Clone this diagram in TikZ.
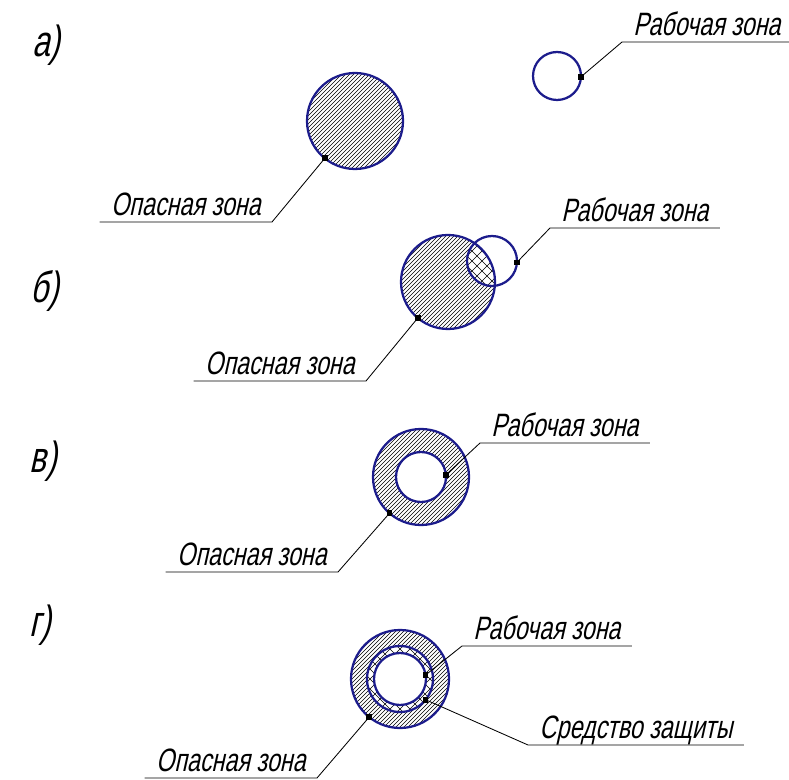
\documentclass[tikz,border=0pt]{standalone}
\usepackage{fontspec}
\newfontfamily\gostfont[FakeSlant=0.22, FakeStretch=0.72]{Liberation Sans}
\usetikzlibrary{positioning, calc}
\definecolor{zoneblue}{RGB}{28, 28, 140}

\newcommand{\densehatch}[1]{%
  \foreach \k in {-72,-68,...,72}
    \draw[hatch, shift={(#1)}] (\k-60,60) -- (\k+60,-60);}
\newcommand{\crosshatch}[1]{%
  \foreach \k in {-70,-60,...,70} {
    \draw[hatch, shift={(#1)}] (\k-60,60) -- (\k+60,-60);
    \draw[hatch, shift={(#1)}] (\k-60,-60) -- (\k+60,60);}}

\begin{document}
\begin{tikzpicture}[x=0.025cm, y=-0.025cm,
  zone/.style={draw=zoneblue, line width=1.6pt},
  hatch/.style={line width=0.4pt},
  leader/.style={line width=0.6pt},
  dotm/.style={fill, inner sep=0pt, minimum size=0.14cm},
  tag/.style={font=\gostfont\fontsize{23}{26}\selectfont,
    inner xsep=0.28cm, inner ysep=0.15cm, text depth=0pt},
  letter/.style={font=\gostfont\fontsize{31}{34}\selectfont}]
\useasboundingbox (0,0) rectangle (789,780);

\coordinate (dzA) at (355,121);
\coordinate (wzA) at (557,76);
\coordinate (dzB) at (448,282);
\coordinate (wzB) at (492,261);
\coordinate (dzC) at (421,477);
\coordinate (dzD) at (400,679);

% a)
\begin{scope}
  \clip (dzA) circle (48);
  \densehatch{dzA}
\end{scope}
\draw[zone] (dzA) circle (48);
\draw[zone] (wzA) circle (24);

% b)
\begin{scope}
  \clip (dzB) circle (47);
  \densehatch{dzB}
  \fill[white] (wzB) circle (25);
  \clip (wzB) circle (25);
  \crosshatch{wzB}
\end{scope}
\draw[zone] (dzB) circle (47);
\draw[zone] (wzB) circle (25);

% v)
\begin{scope}
  \clip (dzC) circle (48);
  \densehatch{dzC}
  \fill[white] (dzC) circle (25);
\end{scope}
\draw[zone] (dzC) circle (48);
\draw[zone] (dzC) circle (25);

% g)
\begin{scope}
  \clip (dzD) circle (49);
  \densehatch{dzD}
  \fill[white] (dzD) circle (33);
  \clip (dzD) circle (33);
  \crosshatch{dzD}
  \fill[white] (dzD) circle (26);
\end{scope}
\draw[zone] (dzD) circle (49);
\draw[zone] (dzD) circle (33);
\draw[zone] (dzD) circle (26);

\node[letter] (la) at (46,45) {а)};
\node[letter] (lb) at (45,291) {б)};
\node[letter] (lv) at (43,461) {в)};
\node[letter] (lg) at (40,625) {г)};

\node[dotm] (pdA) at ($(dzA)+(129:48)$) {};
\node[dotm] (pwA) at ($(wzA)+(2:24)$) {};
\node[tag, anchor=south east] (opA) at (272,222) {Опасная зона};
\node[tag, anchor=south west] (rbA) at (622,42) {Рабочая зона};
\draw[leader] (pdA.center) -- (opA.south east) -- (opA.south west);
\draw[leader] (pwA.center) -- (rbA.south west) -- (rbA.south east);

\node[dotm] (pdB) at ($(dzB)+(130:47)$) {};
\node[dotm] (pwB) at ($(wzB)+(3:25)$) {};
\node[tag, anchor=south east] (opB) at (366,381) {Опасная зона};
\node[tag, anchor=south west] (rbB) at (550,228) {Рабочая зона};
\draw[leader] (pdB.center) -- (opB.south east) -- (opB.south west);
\draw[leader] (pwB.center) -- (rbB.south west) -- (rbB.south east);

\node[dotm] (pdC) at ($(dzC)+(131:48)$) {};
\node[dotm] (pwC) at ($(dzC)+(-5:25)$) {};
\node[tag, anchor=south east] (opC) at (338,572) {Опасная зона};
\node[tag, anchor=south west] (rbC) at (480,443) {Рабочая зона};
\draw[leader] (pdC.center) -- (opC.south east) -- (opC.south west);
\draw[leader] (pwC.center) -- (rbC.south west) -- (rbC.south east);

\node[dotm] (pdD) at ($(dzD)+(129:49)$) {};
\node[dotm] (pwD) at ($(dzD)+(-9:26)$) {};
\node[dotm] (psD) at ($(dzD)+(39:33)$) {};
\node[tag, anchor=south east] (opD) at (317,778) {Опасная зона};
\node[tag, anchor=south west] (rbD) at (462,646) {Рабочая зона};
\node[tag, anchor=south west] (sdD) at (528,745) {Средство защиты};
\draw[leader] (pdD.center) -- (opD.south east) -- (opD.south west);
\draw[leader] (pwD.center) -- (rbD.south west) -- (rbD.south east);
\draw[leader] (psD.center) -- (sdD.south west) -- (sdD.south east);
\end{tikzpicture}
\end{document}
